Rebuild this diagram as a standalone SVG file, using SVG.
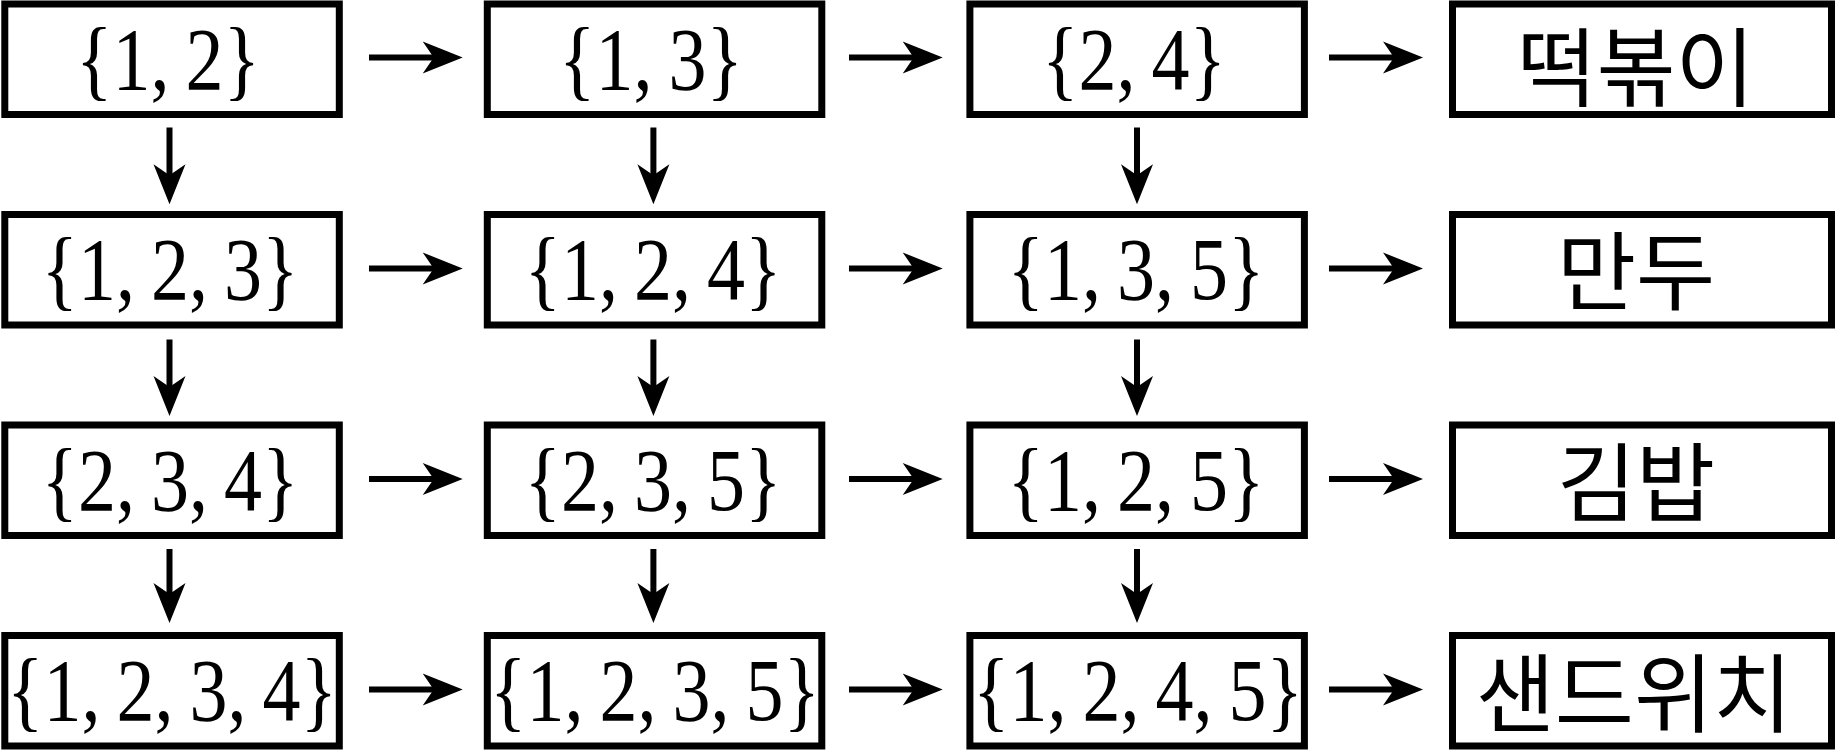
<svg xmlns="http://www.w3.org/2000/svg" xmlns:xlink="http://www.w3.org/1999/xlink" width="1835" height="751" viewBox="0 0 1835 751">
<style>
.box{fill:#fff;stroke:#000;stroke-width:7}
.set{font-family:"Liberation Serif","DejaVu Serif",serif;font-size:76px;text-anchor:middle;fill:#000}
.kr{font-family:"Noto Sans CJK KR","Noto Sans CJK SC",sans-serif;font-size:86px;text-anchor:middle;fill:#000}
.ln{stroke:#000;stroke-width:6;fill:none}
.hd{fill:#000}
</style>
<defs>
<path id="ahR" d="M0,0 L-40,-16 L-29,0 L-40,16 Z"/>
<path id="ahD" d="M0,0 L-16,-40 L0,-29 L16,-40 Z"/>
</defs>
<rect width="1835" height="751" fill="#fff"/>
<g id="n12"><rect class="box" x="4.8" y="4" width="334.5" height="110.5"/><text class="set" transform="translate(168,88.5) scale(1,1.16)"><tspan>{</tspan><tspan>1</tspan><tspan>,</tspan><tspan dx="16">2</tspan><tspan>}</tspan></text></g>
<g id="n13"><rect class="box" x="487.3" y="4" width="334.5" height="110.5"/><text class="set" transform="translate(651,88.5) scale(1,1.16)"><tspan>{</tspan><tspan>1</tspan><tspan>,</tspan><tspan dx="16">3</tspan><tspan>}</tspan></text></g>
<g id="n24"><rect class="box" x="969.9" y="4" width="334.5" height="110.5"/><text class="set" transform="translate(1134,88.5) scale(1,1.16)"><tspan>{</tspan><tspan>2</tspan><tspan>,</tspan><tspan dx="16">4</tspan><tspan>}</tspan></text></g>
<g id="tteok"><rect class="box" x="1452.5" y="4" width="379" height="110.5"/><text class="kr" x="1636" y="100">떡볶이</text></g>

<g id="n123"><rect class="box" x="4.8" y="214.5" width="334.5" height="110.5"/><text class="set" transform="translate(170,299) scale(1,1.16)"><tspan>{</tspan><tspan>1</tspan><tspan>,</tspan><tspan dx="16">2</tspan><tspan>,</tspan><tspan dx="16">3</tspan><tspan>}</tspan></text></g>
<g id="n124"><rect class="box" x="487.3" y="214.5" width="334.5" height="110.5"/><text class="set" transform="translate(653,299) scale(1,1.16)"><tspan>{</tspan><tspan>1</tspan><tspan>,</tspan><tspan dx="16">2</tspan><tspan>,</tspan><tspan dx="16">4</tspan><tspan>}</tspan></text></g>
<g id="n135"><rect class="box" x="969.9" y="214.5" width="334.5" height="110.5"/><text class="set" transform="translate(1136,299) scale(1,1.16)"><tspan>{</tspan><tspan>1</tspan><tspan>,</tspan><tspan dx="16">3</tspan><tspan>,</tspan><tspan dx="16">5</tspan><tspan>}</tspan></text></g>
<g id="mandu"><rect class="box" x="1452.5" y="214.5" width="379" height="110.5"/><text class="kr" x="1636" y="304">만두</text></g>

<g id="n234"><rect class="box" x="4.8" y="425" width="334.5" height="110.5"/><text class="set" transform="translate(170,509.5) scale(1,1.16)"><tspan>{</tspan><tspan>2</tspan><tspan>,</tspan><tspan dx="16">3</tspan><tspan>,</tspan><tspan dx="16">4</tspan><tspan>}</tspan></text></g>
<g id="n235"><rect class="box" x="487.3" y="425" width="334.5" height="110.5"/><text class="set" transform="translate(653,509.5) scale(1,1.16)"><tspan>{</tspan><tspan>2</tspan><tspan>,</tspan><tspan dx="16">3</tspan><tspan>,</tspan><tspan dx="16">5</tspan><tspan>}</tspan></text></g>
<g id="n125"><rect class="box" x="969.9" y="425" width="334.5" height="110.5"/><text class="set" transform="translate(1136,509.5) scale(1,1.16)"><tspan>{</tspan><tspan>1</tspan><tspan>,</tspan><tspan dx="16">2</tspan><tspan>,</tspan><tspan dx="16">5</tspan><tspan>}</tspan></text></g>
<g id="gimbap"><rect class="box" x="1452.5" y="425" width="379" height="110.5"/><text class="kr" x="1636" y="514.5">김밥</text></g>

<g id="n1234"><rect class="box" x="4.8" y="635.5" width="334.5" height="110.5"/><text class="set" transform="translate(172,720) scale(1,1.16)"><tspan>{</tspan><tspan>1</tspan><tspan>,</tspan><tspan dx="16">2</tspan><tspan>,</tspan><tspan dx="16">3</tspan><tspan>,</tspan><tspan dx="16">4</tspan><tspan>}</tspan></text></g>
<g id="n1235"><rect class="box" x="487.3" y="635.5" width="334.5" height="110.5"/><text class="set" transform="translate(655,720) scale(1,1.16)"><tspan>{</tspan><tspan>1</tspan><tspan>,</tspan><tspan dx="16">2</tspan><tspan>,</tspan><tspan dx="16">3</tspan><tspan>,</tspan><tspan dx="16">5</tspan><tspan>}</tspan></text></g>
<g id="n1245"><rect class="box" x="969.9" y="635.5" width="334.5" height="110.5"/><text class="set" transform="translate(1138,720) scale(1,1.16)"><tspan>{</tspan><tspan>1</tspan><tspan>,</tspan><tspan dx="16">2</tspan><tspan>,</tspan><tspan dx="16">4</tspan><tspan>,</tspan><tspan dx="16">5</tspan><tspan>}</tspan></text></g>
<g id="sandwich"><rect class="box" x="1452.5" y="635.5" width="379" height="110.5"/><text class="kr" x="1634" y="725.5">샌드위치</text></g>

<g id="connectors">
<path class="ln" d="M369,57.5H440M849,57.5H920M1329,57.5H1400M369,268.5H440M849,268.5H920M1329,268.5H1400M369,479H440M849,479H920M1329,479H1400M369,689.5H440M849,689.5H920M1329,689.5H1400"/>
<path class="ln" d="M169.5,127.5V182M653.4,127.5V182M1137,127.5V182M169.5,339.5V394M653.4,339.5V394M1137,339.5V394M169.5,549V601M653.4,549V601M1137,549V601"/>
<g class="hd">
<use xlink:href="#ahR" x="462.7" y="57.5"/><use xlink:href="#ahR" x="942.7" y="57.5"/><use xlink:href="#ahR" x="1423" y="57.5"/>
<use xlink:href="#ahR" x="462.7" y="268.5"/><use xlink:href="#ahR" x="942.7" y="268.5"/><use xlink:href="#ahR" x="1423" y="268.5"/>
<use xlink:href="#ahR" x="462.7" y="479"/><use xlink:href="#ahR" x="942.7" y="479"/><use xlink:href="#ahR" x="1423" y="479"/>
<use xlink:href="#ahR" x="462.7" y="689.5"/><use xlink:href="#ahR" x="942.7" y="689.5"/><use xlink:href="#ahR" x="1423" y="689.5"/>
<use xlink:href="#ahD" x="169.5" y="204.3"/><use xlink:href="#ahD" x="653.4" y="204.3"/><use xlink:href="#ahD" x="1137" y="204.3"/>
<use xlink:href="#ahD" x="169.5" y="416"/><use xlink:href="#ahD" x="653.4" y="416"/><use xlink:href="#ahD" x="1137" y="416"/>
<use xlink:href="#ahD" x="169.5" y="623"/><use xlink:href="#ahD" x="653.4" y="623"/><use xlink:href="#ahD" x="1137" y="623"/>
</g>
</g>
</svg>
